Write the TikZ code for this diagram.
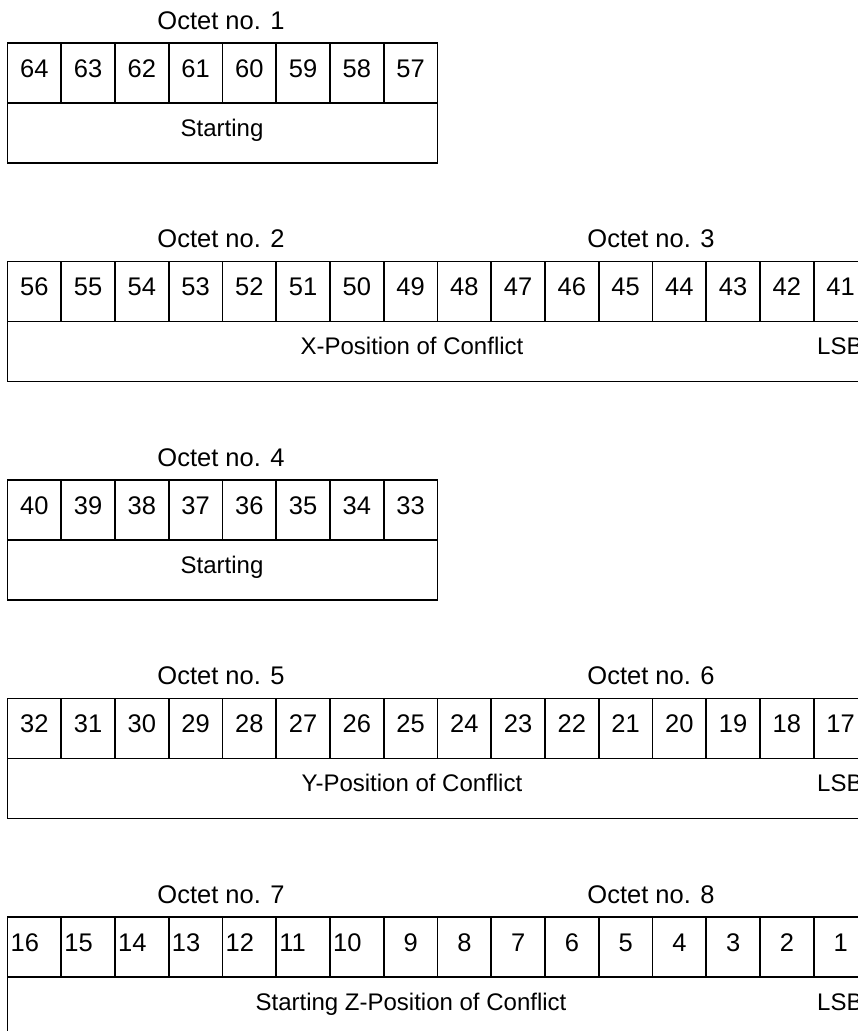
\documentclass[tikz,border=0pt]{standalone}
\usepackage{fontspec}
\setmainfont{Liberation Sans}
\begin{document}
\begin{tikzpicture}[x=1pt,y=-1pt,
  cellbox/.style={draw=black,line width=1.9pt,minimum width=53.75pt,minimum height=60pt,inner sep=0pt,outer sep=0pt,anchor=north west},
  widebox/.style={draw=black,line width=1.9pt,minimum height=60pt,inner sep=0pt,outer sep=0pt,anchor=north west},
  txt/.style={inner sep=0pt,font=\fontsize{25.5}{29}\selectfont,text=black},
  btxt/.style={inner sep=0pt,font=\fontsize{24}{28}\selectfont,text=black}]
\useasboundingbox (0,0) rectangle (858,1031);
\clip (0,0) rectangle (858,1031);
\foreach \r/\top/\n/\first/\bt/\tx/\oa/\ob in {
 1/43/8/64/Starting/222/1/0,
 2/261.5/16/56/X-Position of Conflict/412/2/3,
 3/480/8/40/Starting/222/4/0,
 4/698.5/16/32/Y-Position of Conflict/412/5/6,
 5/917/16/16/Starting Z-Position of Conflict/411/7/8}{
  \pgfmathsetmacro\mid{\top+60}
  \pgfmathsetmacro\wid{53.75*\n}
  \node[widebox,minimum width=\wid pt] (b\r) at (7.5,\mid) {};
  \node[btxt,anchor=base] (bt\r) at (\tx,\mid+33) {\bt};
  \node[txt,anchor=base] (oa\r) at (221,\top-14) {Octet no. \oa};
  \ifnum\n>8
    \node[txt,anchor=base] (ob\r) at (651,\top-14) {Octet no. \ob};
    \node[btxt,anchor=base west] (lsb\r) at (817,\mid+33) {LSB};
  \fi
  \foreach \k in {1,...,\n}{
    \pgfmathtruncatemacro\num{\first+1-\k}
    \node[cellbox] (c\r-\k) at ({7.5+53.75*(\k-1)},\top) {};
    \ifnum\r=5 \ifnum\num>9
      \node[txt,anchor=base west] (t\r-\k) at ({7.5+53.75*(\k-1)+3},\top+34) {\num};
    \else
      \node[txt,anchor=base] (t\r-\k) at ({7.5+53.75*(\k-0.5)},\top+34) {\num};
    \fi\else
      \node[txt,anchor=base] (t\r-\k) at ({7.5+53.75*(\k-0.5)},\top+34) {\num};
    \fi
  }
}
\end{tikzpicture}
\end{document}
